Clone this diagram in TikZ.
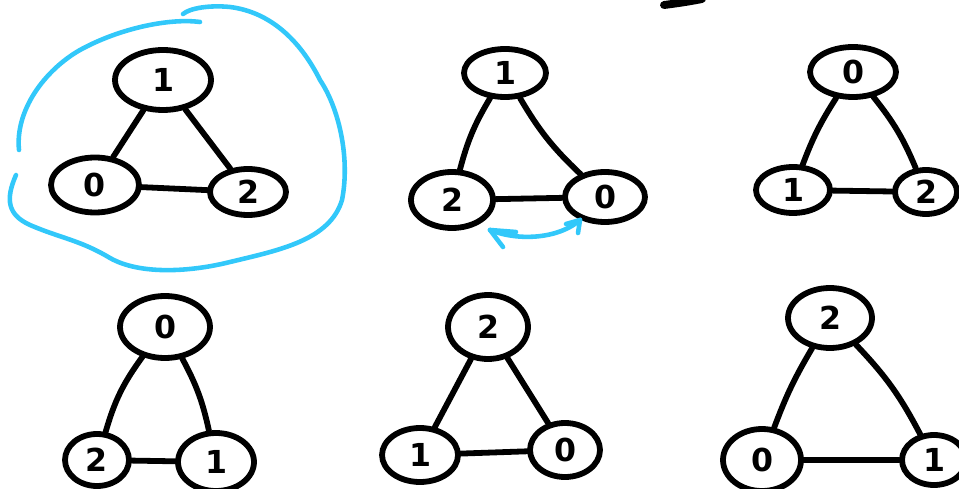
\documentclass[tikz,border=0pt]{standalone}
\usepackage{fontspec}
\setsansfont{DejaVu Sans}
\usetikzlibrary{shapes.geometric,arrows.meta}
\definecolor{hlblue}{RGB}{50,200,250}
\tikzset{
  nd/.style 2 args={ellipse, draw=black, line width=3.3pt, inner sep=0pt,
    minimum width=#1*0.02cm, minimum height=#2*0.02cm,
    font=\sffamily\bfseries\fontsize{18}{18}\selectfont},
  edge/.style={line width=3.3pt, line cap=round},
  hl/.style={hlblue, line width=2.6pt, line cap=round, line join=round}
}
\begin{document}
\begin{tikzpicture}[x=0.02cm,y=-0.02cm]
\useasboundingbox (0,0) rectangle (959,489);
% stray stroke at top
\draw[edge, line width=4.5pt] (664,5) .. controls (680,3) and (692,1) .. (702,-1);
% graph 1
\node[nd={96}{60}] (a1) at (163,80) {1};
\node[nd={88}{55}] (a0) at (95,185) {0};
\node[nd={76}{46}] (a2) at (248,192) {2};
\draw[edge] (a1) -- (a0);
\draw[edge] (a1) -- (a2);
\draw[edge] (a0) -- (a2);
\draw[hl] (200,22) .. controls (170,18) and (120,28) .. (80,50)
  .. controls (45,70) and (15,110) .. (19,150);
\draw[hl] (16,175) .. controls (5,200) and (8,215) .. (30,225)
  .. controls (60,238) and (80,240) .. (110,258)
  .. controls (140,275) and (190,272) .. (230,262)
  .. controls (280,250) and (330,240) .. (342,200)
  .. controls (350,160) and (340,110) .. (320,80)
  .. controls (300,40) and (270,12) .. (230,7)
  .. controls (210,5) and (190,8) .. (183,14);
% graph 2
\node[nd={82}{48}] (b1) at (505,73) {1};
\node[nd={82}{56}] (b2) at (452,200) {2};
\node[nd={80}{50}] (b0) at (605,197) {0};
\draw[edge] (b1) to[bend right=8] (b2);
\draw[edge] (b1) to[bend right=8] (b0);
\draw[edge] (b2) -- (b0);
\coordinate (arA) at (580,220);
\coordinate (arB) at (490,230);
\draw[hl] (arA) .. controls (560,238) and (520,242) .. (arB);
\draw[hl] (arA) -- (566,224);
\draw[hl] (arA) -- (578,233);
\draw[hl] (arB) -- (516,232);
\draw[hl] (arB) -- (503,247);
% graph 3
\node[nd={86}{50}] (c0) at (853,72) {0};
\node[nd={74}{46}] (c1) at (793,190) {1};
\node[nd={62}{44}] (c2) at (926,192) {2};
\draw[edge] (c0) to[bend right=6] (c1);
\draw[edge] (c0) to[bend left=8] (c2);
\draw[edge] (c1) -- (c2);
% graph 4
\node[nd={90}{62}] (d0) at (165,327) {0};
\node[nd={64}{52}] (d2) at (97,460) {2};
\node[nd={76}{58}] (d1) at (216,462) {1};
\draw[edge] (d0) to[bend right=10] (d2);
\draw[edge] (d0) to[bend left=8] (d1);
\draw[edge] (d2) -- (d1);
% graph 5
\node[nd={80}{64}] (e2) at (488,327) {2};
\node[nd={76}{54}] (e1) at (420,455) {1};
\node[nd={70}{54}] (e0) at (565,450) {0};
\draw[edge] (e2) -- (e1);
\draw[edge] (e2) -- (e0);
\draw[edge] (e1) -- (e0);
% graph 6
\node[nd={84}{60}] (f2) at (830,318) {2};
\node[nd={78}{62}] (f0) at (762,460) {0};
\node[nd={64}{50}] (f1) at (934,460) {1};
\draw[edge] (f2) to[bend right=5] (f0);
\draw[edge] (f2) to[bend left=8] (f1);
\draw[edge] (f0) -- (f1);
\end{tikzpicture}
\end{document}
